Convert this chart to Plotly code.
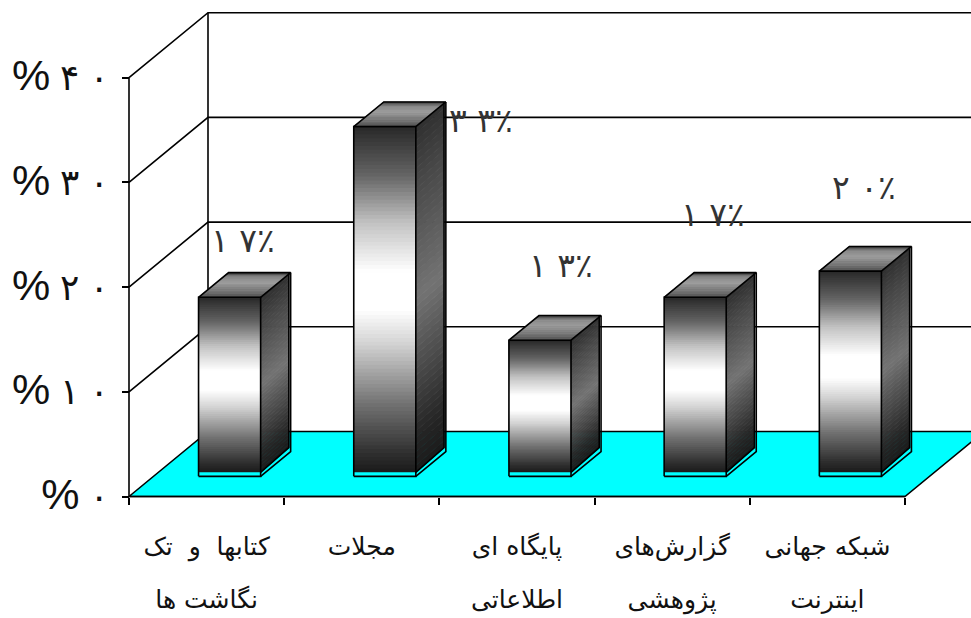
import numpy as np
import plotly.graph_objects as go

# ---- data ----
categories_line1 = ["کتابها\u00a0 و\u00a0 تک", "مجلات", "پایگاه ای", "گزارش‌های", "شبکه جهانی"]
categories_line2 = ["نگاشت ها", "", "اطلاعاتی", "پژوهشی", "اینترنت"]
values = [17.1, 33.4, 13, 17.1, 19.6]
value_labels = ["۱ ۷٪", "۳ ۳٪", "۱ ۳٪", "۱ ۷٪", "۲ ۰٪"]
y_ticks = [0, 10, 20, 30, 40]
y_digits = ["۰", "۱ ۰", "۲ ۰", "۳ ۰", "۴ ۰"]

# ---- style / projection ----
W, H = 971, 618
PX_X, PX_Y = 155.2, 10.47      # pixels per category / per percent
X0_PX, Y0_PX = 129, 496.5      # pixel position of the origin
DX, DY = 79 / PX_X, 65 / PX_Y  # shift of the full chart depth
D_FRONT, D_BACK = 0.31, 0.69   # bar depth position
BAR_W = 0.4
BAR_NUDGE = -1.5 / PX_X
GAP = 0.38                     # cyan strip beneath gradient
xr = [-X0_PX / PX_X, (W - X0_PX) / PX_X]
yr = [(Y0_PX - H) / PX_Y, Y0_PX / PX_Y]
LABEL_SHIFT = [(13, 57), (96, 6), (21, 75), (18, 83), (14, 84)]
LW = 1.6


def gray(g):
    g = int(round(g))
    return f"rgb({g},{g},{g})"


def proj(x, y, d):
    return x + d * DX + BAR_NUDGE, y + d * DY


def shade(t, stops):
    return gray(np.interp(t, stops[0], stops[1]))


FRONT = ([0, .05, .2, .38, .47, .58, .72, .86, 1], [26, 45, 115, 215, 255, 255, 195, 100, 40])
SIDE = ([0, .12, .5, .85, 1], [26, 40, 115, 70, 48])
TOP = ([0, .25, .6, .85, 1], [75, 115, 155, 135, 60])

fig = go.Figure()


def poly(xs, ys, color, axes="xy", line=None):
    fig.add_trace(go.Scatter(
        x=xs, y=ys, mode="lines", fill="toself", fillcolor=color,
        line=dict(color=line or color, width=LW if line else 0.8),
        xaxis="x" if axes == "xy" else "x2", yaxis="y" if axes == "xy" else "y2",
        hoverinfo="skip", showlegend=False))


def line(xs, ys, width=LW, axes="xy"):
    fig.add_trace(go.Scatter(
        x=xs, y=ys, mode="lines", line=dict(color="black", width=width),
        xaxis="x" if axes == "xy" else "x2", yaxis="y" if axes == "xy" else "y2",
        hoverinfo="skip", showlegend=False))


n_cat = len(categories_line1)
top_val = y_ticks[-1]

# floor
poly([0, n_cat, n_cat + DX, DX, 0], [0, 0, DY, DY, 0], "#00ffff", line="black")
# walls
gx, gy = [], []
for t in y_ticks[1:]:
    gx += [0, DX, n_cat + DX, None]
    gy += [t, t + DY, t + DY, None]
gx += [DX, DX]
gy += [DY, top_val + DY]
line(gx, gy)

# bars
NF, NS, NT = 90, 50, 14
for i, v in enumerate(values):
    cx, base = proj(i + 0.5, 0, D_FRONT)
    fl = cx - BAR_W / 2
    fr = cx + BAR_W / 2
    grad = base + GAP
    h = base + v - grad
    # each gradient slice reaches the bar top and is over-painted by the next one
    fig.add_trace(go.Bar(
        x=[cx] * NF, y=[h * (1 - j / NF) for j in range(NF)],
        base=[grad + h * j / NF for j in range(NF)],
        width=BAR_W,
        marker=dict(color=[shade((j + .5) / NF, FRONT) for j in range(NF)], line=dict(width=0)),
        xaxis="x2", yaxis="y2", hoverinfo="skip", showlegend=False))
    depth = D_BACK - D_FRONT
    sdx, sdy = depth * DX, depth * DY
    for j in range(NS):
        y0 = grad + h * j / NS
        y1 = grad + h * (j + 1) / NS
        k = sdx * 0.94
        poly([fr, fr + k, fr + k, fr, fr],
             [y0, y0 + sdy, y1 + sdy, y1, y0],
             shade((j + .5) / NS, SIDE), axes="x2")
    yt = base + v
    for j in range(NT):
        a, b = j / NT, (j + 1) / NT
        poly([fl + a * sdx, fr + a * sdx, fr + b * sdx, fl + b * sdx, fl + a * sdx],
             [yt + a * sdy, yt + a * sdy, yt + b * sdy, yt + b * sdy, yt + a * sdy],
             shade((j + .5) / NT, TOP), axes="x2")
    line([fl, fr, fr, fl, fl, None, fr, fr + sdx, fr + sdx, None, fl, fl + sdx, fr + sdx, fr, None, fr, fr + sdx * .94, fr + sdx * .94],
         [base, base, yt, yt, base, None, base, base + sdy, yt + sdy, None, yt, yt + sdy, yt + sdy, yt, None, grad, grad + sdy, yt + sdy],
         axes="x2")

# front axis lines
line([0, 0], [0, top_val], axes="x2")
line([0, n_cat], [0, 0], axes="x2")

# value labels
for i, (v, lab) in enumerate(zip(values, value_labels)):
    cx, base = proj(i + 0.5, 0, D_FRONT)
    fig.add_annotation(x=cx, y=base + v, text=lab, showarrow=False, xref="x2", yref="y2",
                       xshift=LABEL_SHIFT[i][0], yshift=LABEL_SHIFT[i][1],
                       font=dict(family="DejaVu Sans", size=33, color="#333333"))

ytext = [f'<span style="font-size:43px">%</span> {d}' for d in y_digits]
tick_centres = [i + .5 for i in range(n_cat)]

fig.update_layout(
    width=W, height=H, margin=dict(l=0, r=0, t=0, b=0), autosize=False,
    paper_bgcolor="white", plot_bgcolor="white", showlegend=False, barmode="overlay",
    font=dict(family="Liberation Sans, DejaVu Sans", color="#111111"),
    xaxis=dict(range=xr, domain=[0, 1], anchor="free", position=(H - Y0_PX) / H, showgrid=False, zeroline=False,
               showline=False, tickmode="array", tickvals=tick_centres, ticktext=categories_line1,
               ticks="", ticklabelstandoff=32, tickangle=0, tickfont=dict(size=25, family="DejaVu Sans", color="#111111"),
               minor=dict(tickmode="array", tickvals=list(range(n_cat + 1)), ticks="outside", ticklen=7,
                          tickwidth=LW, tickcolor="black", showgrid=False)),
    yaxis=dict(range=yr, domain=[0, 1], anchor="free", position=X0_PX / W, showgrid=False, zeroline=False,
               showline=False, tickmode="array", tickvals=y_ticks, ticktext=ytext, ticks="outside", ticklen=7,
               ticklabelstandoff=6,
               tickwidth=LW, tickcolor="black", tickfont=dict(size=36, family="Liberation Sans, DejaVu Sans", color="#111111")),
    xaxis2=dict(range=xr, domain=[0, 1], overlaying="x", anchor="free", position=(H - Y0_PX) / H, side="bottom",
                showgrid=False, zeroline=False, showline=False, tickmode="array", tickvals=tick_centres,
                ticktext=categories_line2, ticks="", ticklabelstandoff=85, tickangle=0,
                tickfont=dict(size=25, family="DejaVu Sans", color="#111111")),
    yaxis2=dict(range=yr, domain=[0, 1], overlaying="y", anchor="x2", visible=False),
)

fig.write_html("out.html", config=dict(displayModeBar=False),
               post_script="document.body.style.margin='0';document.body.style.overflow='hidden';")
